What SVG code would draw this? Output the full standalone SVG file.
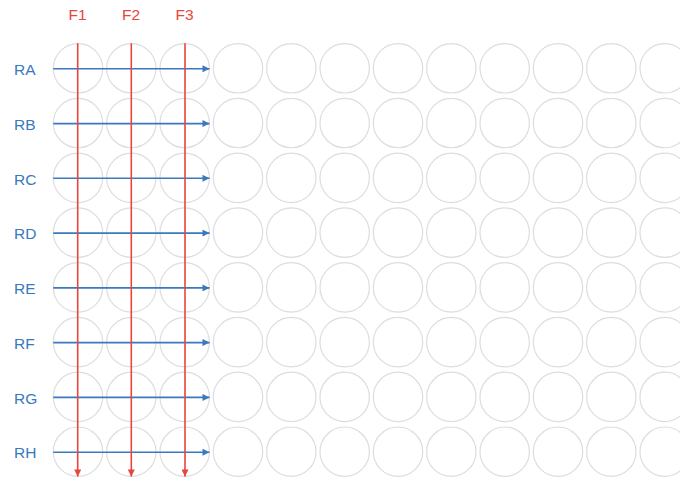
<svg xmlns="http://www.w3.org/2000/svg" width="680" height="478" viewBox="0 0 680 478">
<style>
.c{fill:none;stroke:#dddddd;stroke-width:1.2}
.rl{font-family:"Liberation Sans",Arial,sans-serif;font-size:15.5px;fill:#3a78c0}
.cl{font-family:"Liberation Sans",Arial,sans-serif;font-size:15.5px;fill:#e8453c;text-anchor:middle}
.b{stroke:#3a78c0;stroke-width:1.6;fill:none}
.r{stroke:#e8453c;stroke-width:1.6;fill:none}
</style>
<defs>
<marker id="ab" viewBox="0 0 10 10" refX="10" refY="5" markerWidth="8" markerHeight="7" markerUnits="userSpaceOnUse" orient="auto"><path d="M0,0 L10,5 L0,10 z" fill="#3a78c0"/></marker>
<marker id="ar" viewBox="0 0 10 10" refX="10" refY="5" markerWidth="8" markerHeight="7" markerUnits="userSpaceOnUse" orient="auto"><path d="M0,0 L10,5 L0,10 z" fill="#e8453c"/></marker>
<g id="circ">
<circle id="cell" class="c" cx="0" cy="0" r="24.7"/>
</g>
</defs>
<g id="grid">
<g id="row-A" transform="translate(0,68.3)">
<use href="#cell" x="78"/><use href="#cell" x="131.33"/><use href="#cell" x="184.67"/><use href="#cell" x="238"/><use href="#cell" x="291.33"/><use href="#cell" x="344.67"/><use href="#cell" x="398"/><use href="#cell" x="451.33"/><use href="#cell" x="504.67"/><use href="#cell" x="558"/><use href="#cell" x="611.33"/><use href="#cell" x="664.67"/>
</g>
<g id="row-B" transform="translate(0,123.07)">
<use href="#cell" x="78"/><use href="#cell" x="131.33"/><use href="#cell" x="184.67"/><use href="#cell" x="238"/><use href="#cell" x="291.33"/><use href="#cell" x="344.67"/><use href="#cell" x="398"/><use href="#cell" x="451.33"/><use href="#cell" x="504.67"/><use href="#cell" x="558"/><use href="#cell" x="611.33"/><use href="#cell" x="664.67"/>
</g>
<g id="row-C" transform="translate(0,177.84)">
<use href="#cell" x="78"/><use href="#cell" x="131.33"/><use href="#cell" x="184.67"/><use href="#cell" x="238"/><use href="#cell" x="291.33"/><use href="#cell" x="344.67"/><use href="#cell" x="398"/><use href="#cell" x="451.33"/><use href="#cell" x="504.67"/><use href="#cell" x="558"/><use href="#cell" x="611.33"/><use href="#cell" x="664.67"/>
</g>
<g id="row-D" transform="translate(0,232.61)">
<use href="#cell" x="78"/><use href="#cell" x="131.33"/><use href="#cell" x="184.67"/><use href="#cell" x="238"/><use href="#cell" x="291.33"/><use href="#cell" x="344.67"/><use href="#cell" x="398"/><use href="#cell" x="451.33"/><use href="#cell" x="504.67"/><use href="#cell" x="558"/><use href="#cell" x="611.33"/><use href="#cell" x="664.67"/>
</g>
<g id="row-E" transform="translate(0,287.38)">
<use href="#cell" x="78"/><use href="#cell" x="131.33"/><use href="#cell" x="184.67"/><use href="#cell" x="238"/><use href="#cell" x="291.33"/><use href="#cell" x="344.67"/><use href="#cell" x="398"/><use href="#cell" x="451.33"/><use href="#cell" x="504.67"/><use href="#cell" x="558"/><use href="#cell" x="611.33"/><use href="#cell" x="664.67"/>
</g>
<g id="row-F" transform="translate(0,342.15)">
<use href="#cell" x="78"/><use href="#cell" x="131.33"/><use href="#cell" x="184.67"/><use href="#cell" x="238"/><use href="#cell" x="291.33"/><use href="#cell" x="344.67"/><use href="#cell" x="398"/><use href="#cell" x="451.33"/><use href="#cell" x="504.67"/><use href="#cell" x="558"/><use href="#cell" x="611.33"/><use href="#cell" x="664.67"/>
</g>
<g id="row-G" transform="translate(0,396.92)">
<use href="#cell" x="78"/><use href="#cell" x="131.33"/><use href="#cell" x="184.67"/><use href="#cell" x="238"/><use href="#cell" x="291.33"/><use href="#cell" x="344.67"/><use href="#cell" x="398"/><use href="#cell" x="451.33"/><use href="#cell" x="504.67"/><use href="#cell" x="558"/><use href="#cell" x="611.33"/><use href="#cell" x="664.67"/>
</g>
<g id="row-H" transform="translate(0,451.7)">
<use href="#cell" x="78"/><use href="#cell" x="131.33"/><use href="#cell" x="184.67"/><use href="#cell" x="238"/><use href="#cell" x="291.33"/><use href="#cell" x="344.67"/><use href="#cell" x="398"/><use href="#cell" x="451.33"/><use href="#cell" x="504.67"/><use href="#cell" x="558"/><use href="#cell" x="611.33"/><use href="#cell" x="664.67"/>
</g>
</g>
<g id="labels">
<text class="cl" x="77.5" y="20">F1</text>
<text class="cl" x="131" y="20">F2</text>
<text class="cl" x="184.5" y="20">F3</text>
<text class="rl" x="14" y="75">RA</text>
<text class="rl" x="14" y="129.8">RB</text>
<text class="rl" x="14" y="184.5">RC</text>
<text class="rl" x="14" y="239.3">RD</text>
<text class="rl" x="14" y="294">RE</text>
<text class="rl" x="14" y="348.8">RF</text>
<text class="rl" x="14" y="403.6">RG</text>
<text class="rl" x="14" y="458.4">RH</text>
</g>
<g id="connectors">
<path class="b" marker-end="url(#ab)" d="M53.3,68.8 H209.5"/>
<path class="b" marker-end="url(#ab)" d="M53.3,123.6 H209.5"/>
<path class="b" marker-end="url(#ab)" d="M53.3,178.3 H209.5"/>
<path class="b" marker-end="url(#ab)" d="M53.3,233.1 H209.5"/>
<path class="b" marker-end="url(#ab)" d="M53.3,287.9 H209.5"/>
<path class="b" marker-end="url(#ab)" d="M53.3,342.6 H209.5"/>
<path class="b" marker-end="url(#ab)" d="M53.3,397.4 H209.5"/>
<path class="b" marker-end="url(#ab)" d="M53.3,452.2 H209.5"/>
<path class="r" marker-end="url(#ar)" d="M77.7,43.3 V476.5"/>
<path class="r" marker-end="url(#ar)" d="M131.3,43.3 V476.5"/>
<path class="r" marker-end="url(#ar)" d="M185,43.3 V476.5"/>
</g>
</svg>
